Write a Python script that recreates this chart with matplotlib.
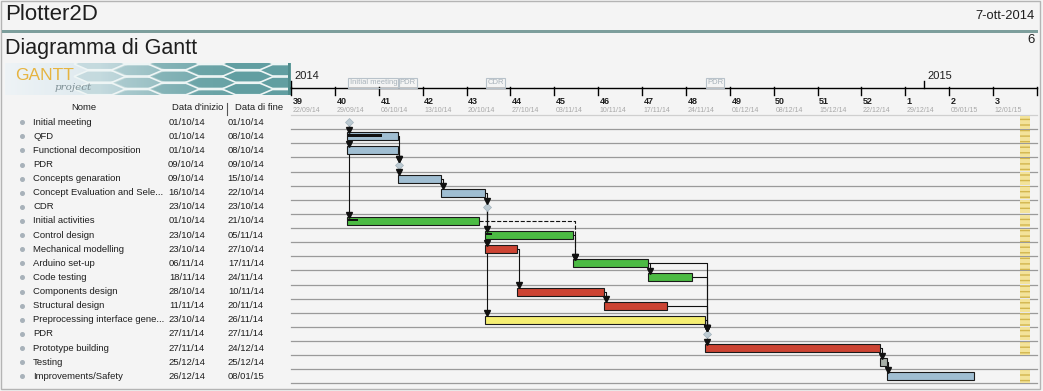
"""
Gantt chart (GanttProject export look) rebuilt with matplotlib.
"""

import datetime as dt
import numpy as np
import matplotlib
matplotlib.use('Agg')
import matplotlib.pyplot as plt
import matplotlib.dates as mdates
from matplotlib.patches import Rectangle, Polygon
from matplotlib.colors import LinearSegmentedColormap

W, H = 1043, 391
plt.rcParams['font.family'] = ['Liberation Sans', 'DejaVu Sans']

# ---- data ----
task_names = ['Initial meeting', 'QFD', 'Functional decomposition', 'PDR',
              'Concepts genaration', 'Concept Evaluation and Sele...', 'CDR',
              'Initial activities', 'Control design', 'Mechanical modelling',
              'Arduino set-up', 'Code testing', 'Components design',
              'Structural design', 'Preprocessing interface gene...', 'PDR',
              'Prototype building', 'Testing', 'Improvements/Safety']
start_dates = ['01/10/14', '01/10/14', '01/10/14', '09/10/14', '09/10/14', '16/10/14',
               '23/10/14', '01/10/14', '23/10/14', '23/10/14', '06/11/14', '18/11/14',
               '28/10/14', '11/11/14', '23/10/14', '27/11/14', '27/11/14', '25/12/14',
               '26/12/14']
end_dates = ['01/10/14', '08/10/14', '08/10/14', '09/10/14', '15/10/14', '22/10/14',
             '23/10/14', '21/10/14', '05/11/14', '27/10/14', '17/11/14', '24/11/14',
             '10/11/14', '20/11/14', '26/11/14', '27/11/14', '24/12/14', '25/12/14',
             '08/01/15']
is_milestone = [True, False, False, True, False, False, True, False, False, False,
                False, False, False, False, False, True, False, False, False]
progress = [0, 0.68, 0, 0, 0, 0, 0, 0.07, 0.07, 0, 0, 0, 0, 0, 0, 0, 0, 0, 0]
dependencies = [(0, 1), (0, 2), (0, 7), (1, 3), (2, 3), (3, 4), (4, 5), (5, 6),
                (6, 8), (6, 9), (6, 14), (7, 10), (8, 10), (9, 12), (10, 11),
                (12, 13), (10, 15), (11, 15), (13, 15), (14, 15), (15, 16),
                (16, 17), (17, 18)]
dashed_dependencies = [(7, 10)]

week_numbers = [39, 40, 41, 42, 43, 44, 45, 46, 47, 48, 49, 50, 51, 52, 1, 2, 3]
week_dates = ['22/09/14', '29/09/14', '06/10/14', '13/10/14', '20/10/14', '27/10/14',
              '03/11/14', '10/11/14', '17/11/14', '24/11/14', '01/12/14', '08/12/14',
              '15/12/14', '22/12/14', '29/12/14', '05/01/15', '12/01/15']
timeline_start = '22/09/14'
timeline_end = '19/01/15'
year_labels = ['2014', '2015']
year_dates = ['22/09/14', '01/01/15']
holiday_date = '16/01/15'
holiday_rows = [0, 1, 2, 3, 4, 5, 6, 7, 8, 9, 10, 11, 12, 13, 14, 15, 16, 18]

# ---- styles ----
BLUE, GREEN, RED, YELLOW, GREY = '#a0bed2', '#4cbb44', '#cc4433', '#f5ee72', '#a8b0a8'
task_colors = [None, BLUE, BLUE, None, BLUE, BLUE, None, GREEN, GREEN, RED,
               GREEN, GREEN, RED, RED, YELLOW, None, RED, GREY, BLUE]
TEXT = '#1e1e1e'


def to_num(s):
    return mdates.date2num(dt.datetime.strptime(s, '%d/%m/%y'))


def px_axes(x0, y0, x1, y1):
    ax = fig.add_axes([x0 / W, 1 - y1 / H, (x1 - x0) / W, (y1 - y0) / H])
    ax.set_axis_off()
    ax.patch.set_alpha(0)
    return ax


fig = plt.figure(figsize=(W / 100, H / 100), dpi=100, facecolor='#f4f4f4')

# page overlay in pixel units
page = px_axes(0, 0, W, H)
page.set_xlim(0, W)
page.set_ylim(H, 0)
page.add_patch(Rectangle((1, 1), 1039, 387.5, fill=False, ec='#b4b4b4', lw=1))
page.add_patch(Rectangle((2, 29.5), 1036, 3.2, color='#7d9e9c', lw=0))
page.text(5, 15, 'Plotter2D', fontsize=16, va='center', color=TEXT)
page.text(1035, 16, '7-ott-2014', fontsize=9.3, va='center', ha='right', color=TEXT)
page.text(5, 48.5, 'Diagramma di Gantt', fontsize=15.5, va='center', color=TEXT)
page.text(1035, 40, '6', fontsize=9.5, va='center', ha='right', color=TEXT)
page.text(84, 108, 'Nome', fontsize=6.8, va='center', ha='center', color=TEXT)
page.text(172, 108, "Data d'inizio", fontsize=6.8, va='center', color=TEXT)
page.plot([227, 227], [102.5, 114.5], color='#555555', lw=0.8)
page.text(235, 108, 'Data di fine', fontsize=6.8, va='center', color=TEXT)

# logo
logo = px_axes(5, 63, 290, 95)
logo.set_xlim(0, 285)
logo.set_ylim(32, 0)
cmap = LinearSegmentedColormap.from_list('logo', ['#eef3f6', '#dde9ee', '#9cc2c6', '#5f9b9b'])
logo.imshow(np.linspace(0, 1, 256)[None, :], cmap=cmap, aspect='auto', extent=(0, 285, 32, 0))
hw, hh = 54, 11.5
for col in range(7):
    cx = 96 + col * 37
    for row in range(-1, 4):
        cy = row * 12.5 + (6.25 if col % 2 else 0) + 1
        verts = [(cx - hw / 2, cy), (cx - hw / 4, cy - hh / 2), (cx + hw / 4, cy - hh / 2),
                 (cx + hw / 2, cy), (cx + hw / 4, cy + hh / 2), (cx - hw / 4, cy + hh / 2)]
        a = float(np.clip((cx - 80) / 160, 0.2, 1.0))
        logo.add_patch(Polygon(verts, closed=True, fc=(0.38, 0.62, 0.63, a),
                               ec='#eef5f5', lw=1.2))
logo.add_patch(Rectangle((283, 0), 2, 32, color='#4f8c8c', lw=0))
logo.text(10, 12, 'GANTT', fontsize=12.5, color='#e6b440', va='center')
logo.text(50, 24, 'project', fontsize=7.5, color='#7f9096', va='center',
          style='italic', family='DejaVu Serif')

x0, x1 = to_num(timeline_start), to_num(timeline_end)

# timeline header
hx = px_axes(291, 60, 1037, 116)
hx.set_xlim(x0, x1)
hx.set_ylim(116, 60)
hx.plot([x0, x1], [88, 88], color='k', lw=1, clip_on=False)
for wn, wd in zip(week_numbers, week_dates):
    t = to_num(wd)
    hx.plot([t, t], [87, 95], color='k', lw=1, clip_on=False)
    hx.text(t + 0.25, 101.5, str(wn), fontsize=6.5, fontweight='bold', va='center', color=TEXT)
    hx.text(t + 0.25, 111, wd, fontsize=5, va='center', color='#a8a8a8')
hx.plot([x1, x1], [87, 95], color='k', lw=1, clip_on=False)
for yl, yd in zip(year_labels, year_dates):
    t = to_num(yd)
    hx.plot([t, t], [81, 88], color='k', lw=1, clip_on=False)
    hx.text(t + 0.6, 76, yl, fontsize=8, va='center', color=TEXT)
for i, name in enumerate(task_names):
    if is_milestone[i]:
        hx.text(to_num(start_dates[i]) + 0.35, 83, name, fontsize=5.5, va='center',
                color='#a8b2ba',
                bbox=dict(boxstyle='square,pad=0.15', fc='none', ec='#b8c2ca', lw=0.8))

# task table
tx = px_axes(0, 115.15, 291, 383.3)
tx.set_xlim(0, 291)
tx.set_ylim(18.5, -0.5)
for i, name in enumerate(task_names):
    tx.plot(22, i, 'o', ms=2.6, color='#a8b2ba')
    tx.text(33, i, name, fontsize=6.8, va='center', color=TEXT)
    tx.text(205, i, start_dates[i], fontsize=6.8, va='center', ha='right', color=TEXT)
    tx.text(264, i, end_dates[i], fontsize=6.8, va='center', ha='right', color=TEXT)

# gantt area
gx = px_axes(291, 115.15, 1037, 383.3)
gx.set_xlim(x0, x1)
gx.set_ylim(18.5, -0.5)
for b in np.arange(-0.5, len(task_names)):
    gx.axhline(b, color='#cfcfcf' if b < 0 else '#9a9a9a', lw=0.9, clip_on=False, zorder=1)

hd = to_num(holiday_date) + 0.3
gx.barh(holiday_rows, 1.6, left=hd, height=0.92, color='#f3e39a', edgecolor='#d2b64e',
        hatch='---', lw=0, zorder=1.5)

bar_h = 0.57
for i in range(len(task_names)):
    s = to_num(start_dates[i])
    if is_milestone[i]:
        gx.plot(s + 0.3, i, marker='D', ms=4.5, color='#bccad2', mec='#a2b2bc',
                mew=0.5, zorder=5)
        continue
    e = to_num(end_dates[i]) + 1
    gx.barh(i, e - s, left=s, height=bar_h, color=task_colors[i], edgecolor='#1a1a1a',
            lw=0.8, zorder=3)
    if progress[i] > 0:
        gx.barh(i - 0.07, (e - s) * progress[i], left=s + 0.15, height=0.19,
                color='#111111', zorder=4)

for p, q in dependencies:
    if is_milestone[p]:
        xf = to_num(start_dates[p]) + 0.3
    else:
        xf = to_num(end_dates[p]) + 1
    xt = to_num(start_dates[q]) + 0.3
    yt = q - (0.22 if is_milestone[q] else bar_h / 2)
    ls = '--' if (p, q) in dashed_dependencies else '-'
    gx.plot([xf, xt, xt], [p, p, yt - 0.12], color='#111111', lw=0.8, ls=ls, zorder=2)
    gx.plot(xt, yt - 0.17, marker='v', ms=4, color='#111111', zorder=6)

fig.savefig('out.png', dpi=100, facecolor=fig.get_facecolor())
